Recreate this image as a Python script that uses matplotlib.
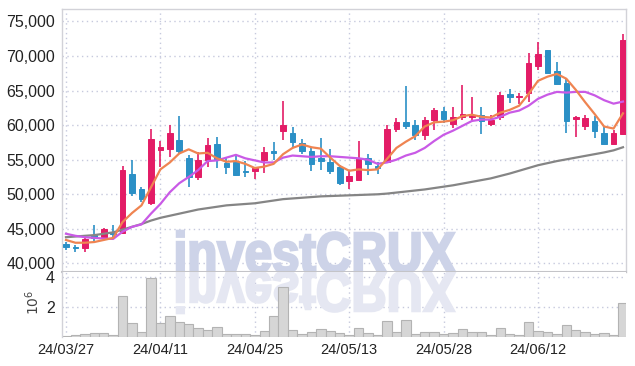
import numpy as np
import matplotlib
matplotlib.use("Agg")
import matplotlib.pyplot as plt
from matplotlib.textpath import TextPath
from matplotlib.patches import PathPatch
from matplotlib.font_manager import FontProperties
from matplotlib.transforms import Affine2D

# daily candles, 2024-03-27 .. 2024-06-25 (60 sessions)
opens = [42800, 42400, 42200, 44100, 43900, 44500, 44400, 52900, 50800, 48700,
         56400, 56600, 57800, 55300, 52500, 54900, 57200, 54500, 54600, 53400,
         53300, 54900, 56300, 59200, 58900, 57400, 56300, 55300, 54700, 54000,
         51900, 52100, 55200, 54100, 54600, 59400, 60400, 60000, 58600, 60800,
         62100, 60200, 61200, 61200, 61500, 60200, 61100, 64500, 64000, 64600,
         68600, 70800, 67800, 66100, 60900, 59800, 60600, 58900, 57300, 58700]
highs = [43100, 42600, 43800, 45500, 45200, 45500, 54100, 55000, 51100, 59400,
         57700, 60000, 61300, 55700, 56100, 58100, 58300, 55200, 55600, 54800,
         53900, 56900, 57600, 63500, 59700, 58000, 56900, 58100, 56600, 54200,
         53300, 57700, 55800, 54600, 60000, 61000, 65600, 60700, 61200, 62400,
         62600, 62600, 65800, 64100, 62600, 61500, 64800, 65200, 64600, 70400,
         72000, 70850, 69100, 66600, 61300, 61400, 61300, 59800, 59300, 73200]
lows = [42000, 41700, 41600, 43200, 43400, 43800, 44300, 49800, 48900, 48400,
        54000, 55400, 55900, 51000, 52000, 54000, 53800, 52900, 52700, 52500,
        52200, 53100, 55000, 57800, 56900, 55800, 53400, 53500, 53000, 51400,
        50800, 52000, 52800, 53000, 54500, 59000, 59400, 57800, 57900, 59300,
        60300, 59600, 60700, 60500, 58700, 59900, 60800, 63200, 63000, 63400,
        68000, 67600, 66000, 58800, 58300, 59300, 58200, 57200, 57200, 58600]
closes = [42400, 42200, 43500, 43700, 45000, 44200, 53500, 50200, 49300, 58000,
          56800, 58900, 56300, 52500, 55000, 57100, 55100, 54000, 52800, 53200,
          53800, 56100, 56000, 60000, 57500, 56200, 54400, 54800, 53400, 51700,
          52700, 55300, 54400, 53800, 59400, 60400, 59900, 58600, 60700, 62200,
          60900, 61200, 61600, 61500, 60600, 60800, 64300, 64000, 64200, 69000,
          70300, 67600, 66000, 60600, 61200, 61000, 59200, 57200, 58900, 72300]
# volume in millions of shares
volumes = [0.07, 0.13, 0.22, 0.29, 0.29, 0.13, 2.75, 0.95, 0.35, 3.95,
           0.95, 1.40, 1.02, 0.89, 0.62, 0.47, 0.66, 0.22, 0.22, 0.22,
           0.13, 0.42, 1.40, 3.33, 0.49, 0.22, 0.35, 0.53, 0.42, 0.27,
           0.15, 0.60, 0.27, 0.15, 1.09, 0.35, 1.15, 0.22, 0.35, 0.35,
           0.22, 0.27, 0.53, 0.35, 0.31, 0.15, 0.60, 0.22, 0.15, 1.00,
           0.42, 0.31, 0.22, 0.80, 0.49, 0.31, 0.22, 0.27, 0.15, 2.27]
ma_short = [43400, 43000, 43000, 43100, 43400, 43700, 46000, 47300, 48400, 51000,
            53600, 54600, 55900, 56500, 55900, 56000, 55200, 54700, 54800, 54400,
            53800, 54000, 54400, 55800, 56700, 57200, 56800, 56600, 55300, 54100,
            53400, 53600, 53500, 53600, 55100, 56700, 57600, 58400, 59800, 60400,
            60500, 60700, 61300, 61500, 61200, 61100, 61800, 62200, 62800, 64500,
            66400, 67000, 67400, 66700, 65100, 63300, 61600, 59800, 59500, 61700]
ma_mid = [44300, 44000, 43800, 43700, 43600, 43550, 44600, 45300, 45650, 47200,
          48600, 50300, 51600, 52500, 53500, 54800, 54900, 55300, 55700, 55200,
          54900, 54600, 54600, 55300, 55600, 55500, 55400, 55500, 55500, 55400,
          55300, 55200, 55000, 54400, 54600, 55000, 55600, 56000, 56700, 57700,
          58600, 59200, 59900, 60600, 60800, 60800, 61200, 61800, 62100, 62800,
          63800, 64400, 64800, 64700, 64800, 64800, 64300, 63600, 63100, 63400]
ma_long = [43800, 43900, 44000, 44100, 44300, 44500, 44900, 45300, 45700, 46200,
           46600, 46900, 47200, 47500, 47800, 48000, 48200, 48400, 48500, 48600,
           48700, 48900, 49100, 49300, 49400, 49500, 49600, 49700, 49750, 49800,
           49850, 49900, 49950, 50000, 50100, 50250, 50400, 50550, 50700, 50900,
           51100, 51300, 51550, 51800, 52050, 52300, 52650, 53000, 53400, 53800,
           54200, 54500, 54800, 55050, 55300, 55550, 55800, 56050, 56350, 56800]
tick_pos = [0, 10, 20, 30, 40, 50]
tick_labels = ["24/03/27", "24/04/11", "24/04/25", "24/05/13", "24/05/28", "24/06/12"]

UP = "#e31c66"
DOWN = "#2b90c6"
GRID = "#c6c9dd"
TXT = "#222222"

plt.rcParams["font.family"] = ["Liberation Sans", "DejaVu Sans"]

fig = plt.figure(figsize=(6.35, 3.66), dpi=100)
ax = fig.add_axes([62 / 635, 94 / 366, 564 / 635, 263 / 366])
axv = fig.add_axes([62 / 635, 29 / 366, 564 / 635, 65 / 366], sharex=ax)

# watermark and its reflection
fp = FontProperties(family="Liberation Sans", weight="bold")
tp = TextPath((0, 0), "investCRUX", size=1, prop=fp)
ext = tp.get_extents()
cap = TextPath((0, 0), "X", size=1, prop=fp).get_extents().height
sx = 278 / ext.width
sy = 39 / cap
tx = 177 - ext.x0 * sx
wm = PathPatch(tp, transform=Affine2D().scale(sx, sy).translate(tx, 94),
               facecolor="#cdd3e8", edgecolor="#cdd3e8", linewidth=1.8,
               zorder=0.6)
ax.add_artist(wm)
wm2 = PathPatch(tp, transform=Affine2D().scale(sx, -sy).translate(tx, 94),
                facecolor="#e5e7f2", edgecolor="#e5e7f2", linewidth=1.8,
                zorder=0.6)
axv.add_artist(wm2)

x = np.arange(len(closes))
o = np.array(opens)
c = np.array(closes)
cols = [UP if cc >= oo else DOWN for oo, cc in zip(o, c)]
body_lo = np.minimum(o, c)
body_h = np.maximum(np.abs(c - o), 120)

ax.vlines(x, lows, highs, colors=cols, linewidth=1.2, zorder=2.5)
ax.bar(x, body_h, bottom=body_lo, width=0.6, color=cols, edgecolor=cols,
       linewidth=0.7, zorder=3)

ax.plot(x, ma_long, color="#858585", linewidth=1.6, zorder=4)
ax.plot(x, ma_mid, color="#c95ae6", linewidth=1.6, zorder=4)
ax.plot(x, ma_short, color="#ef8451", linewidth=1.6, zorder=4)

axv.bar(x, volumes, width=1.0, color="#d6d6d6", edgecolor="#b3b3b3",
        linewidth=0.8, zorder=2)

ax.set_xlim(-0.42, 59.32)
ax.set_ylim(38770, 76780)
axv.set_ylim(0, 4.33)

ax.set_yticks(np.arange(40000, 75001, 5000))
ax.set_yticklabels([f"{v:,}" for v in range(40000, 75001, 5000)])
axv.set_yticks([2, 4])
axv.set_yticklabels(["2", "4"])
axv.set_xticks(tick_pos)
axv.set_xticklabels(tick_labels)
ax.tick_params(axis="x", labelbottom=False)

for a in (ax, axv):
    a.set_axisbelow(True)
    a.grid(True, color=GRID, linestyle=(0, (1, 2.5)), linewidth=1.0)
    a.tick_params(length=0, labelsize=11.5, labelcolor=TXT, pad=5)
    for s in a.spines.values():
        s.set_color("#d2d2d8")
        s.set_linewidth(1.0)
axv.tick_params(axis="x", labelsize=10.5, pad=4)
ax.spines["bottom"].set_color("#c4c4c8")
ax.spines["bottom"].set_linewidth(1.5)
axv.spines["top"].set_visible(False)
axv.spines["bottom"].set_visible(False)
axv.spines["right"].set_visible(False)

fig.text(33 / 635, 1 - 302 / 366, "$10^6$", rotation=90, ha="center",
         va="center", fontsize=10, color="#444444")

fig.savefig("out.png", dpi=100)
